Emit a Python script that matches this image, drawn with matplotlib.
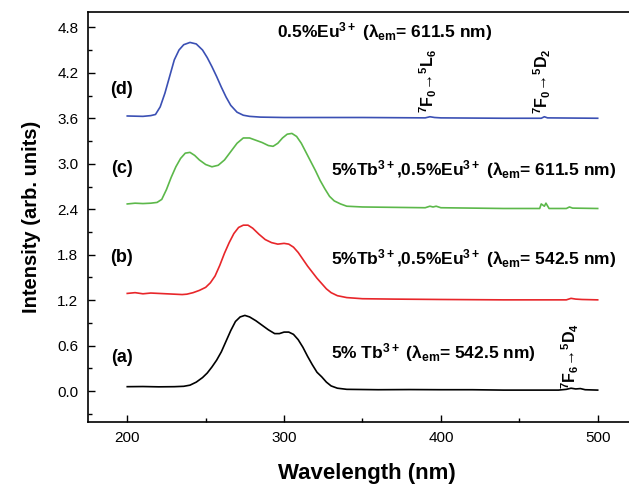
import matplotlib
matplotlib.use('Agg')
import matplotlib.pyplot as plt

plt.rcParams['font.family'] = ['Liberation Sans', 'DejaVu Sans']
plt.rcParams['mathtext.fontset'] = 'custom'
plt.rcParams['mathtext.rm'] = 'Liberation Sans:bold'
plt.rcParams['mathtext.it'] = 'Liberation Sans:bold'
plt.rcParams['mathtext.bf'] = 'Liberation Sans:bold'

# (a) 5% Tb3+, em 542.5 nm
wl_a = [200, 210, 220, 230, 236, 240, 244, 248, 251, 254, 257, 260, 263, 266,
        269, 272, 275, 278, 282, 286, 290, 294, 297, 300, 303, 306, 309, 312,
        315, 318, 321, 324, 327, 330, 334, 340, 360, 380, 400, 420, 440, 460,
        475, 480, 483, 486, 489, 492, 500]
int_a = [0.06, 0.062, 0.058, 0.06, 0.065, 0.08, 0.12, 0.18, 0.24, 0.32, 0.41,
         0.52, 0.66, 0.80, 0.92, 0.98, 1.0, 0.98, 0.93, 0.87, 0.81, 0.76, 0.76,
         0.78, 0.78, 0.75, 0.68, 0.58, 0.46, 0.35, 0.25, 0.19, 0.12, 0.07, 0.04,
         0.025, 0.02, 0.022, 0.02, 0.02, 0.015, 0.015, 0.015, 0.025, 0.04, 0.03,
         0.035, 0.02, 0.015]

# (b) 5%Tb3+,0.5%Eu3+, em 542.5 nm
wl_b = [200, 205, 210, 215, 220, 225, 230, 235, 238, 242, 246, 250, 253, 256,
        259, 262, 265, 268, 271, 274, 277, 280, 284, 288, 292, 296, 300, 303,
        306, 309, 312, 315, 318, 321, 324, 327, 330, 334, 340, 350, 370, 400,
        440, 480, 483, 486, 490, 500]
int_b = [1.29, 1.30, 1.285, 1.295, 1.29, 1.285, 1.28, 1.275, 1.28, 1.30, 1.33,
         1.37, 1.43, 1.52, 1.66, 1.82, 1.96, 2.08, 2.16, 2.19, 2.19, 2.15, 2.07,
         2.00, 1.96, 1.94, 1.95, 1.94, 1.90, 1.83, 1.74, 1.65, 1.57, 1.49, 1.42,
         1.35, 1.30, 1.26, 1.235, 1.22, 1.215, 1.21, 1.205, 1.205, 1.225, 1.215,
         1.21, 1.205]

# (c) 5%Tb3+,0.5%Eu3+, em 611.5 nm
wl_c = [200, 205, 210, 215, 219, 222, 225, 228, 231, 234, 237, 240, 243, 246,
        250, 254, 258, 262, 266, 270, 274, 278, 282, 286, 290, 293, 296, 299,
        302, 305, 308, 311, 314, 317, 320, 323, 326, 329, 332, 336, 340, 350,
        370, 390, 393, 395, 397, 400, 420, 440, 460, 463, 464, 466, 467, 469,
        480, 482, 484, 500]
int_c = [2.47, 2.48, 2.475, 2.48, 2.49, 2.53, 2.66, 2.82, 2.96, 3.07, 3.14,
         3.15, 3.11, 3.05, 2.99, 2.96, 2.98, 3.05, 3.16, 3.27, 3.34, 3.34, 3.31,
         3.28, 3.24, 3.23, 3.27, 3.34, 3.39, 3.40, 3.36, 3.27, 3.15, 3.03, 2.91,
         2.78, 2.67, 2.57, 2.51, 2.47, 2.44, 2.43, 2.425, 2.42, 2.44, 2.43, 2.44,
         2.42, 2.415, 2.41, 2.41, 2.41, 2.47, 2.44, 2.48, 2.41, 2.41, 2.43,
         2.415, 2.41]

# (d) 0.5%Eu3+, em 611.5 nm
wl_d = [200, 210, 215, 218, 221, 224, 227, 230, 233, 236, 240, 244, 248, 251,
        254, 257, 260, 263, 266, 270, 274, 278, 285, 300, 350, 390, 393, 396,
        400, 440, 464, 466, 468, 500]
int_d = [3.63, 3.625, 3.635, 3.65, 3.75, 3.93, 4.15, 4.37, 4.50, 4.57, 4.60,
         4.58, 4.50, 4.40, 4.28, 4.15, 4.01, 3.88, 3.77, 3.68, 3.64, 3.625, 3.615,
         3.61, 3.61, 3.605, 3.62, 3.61, 3.605, 3.60, 3.60, 3.62, 3.605, 3.60]

fig = plt.figure(figsize=(6.29, 4.84), dpi=100)
ax = fig.add_axes([0.14, 0.129, 0.885, 0.846])

ax.plot(wl_a, int_a, color='black', lw=1.2)
ax.plot(wl_b, int_b, color='#e8262a', lw=1.2)
ax.plot(wl_c, int_c, color='#5cb84a', lw=1.2)
ax.plot(wl_d, int_d, color='#3b50b4', lw=1.2)

ax.set_xlim(175, 530)
ax.set_ylim(-0.4, 5.0)
ax.set_xticks([200, 300, 400, 500])
ax.set_xticks([250, 350, 450], minor=True)
ax.set_yticks([0.0, 0.6, 1.2, 1.8, 2.4, 3.0, 3.6, 4.2, 4.8])
ax.set_yticks([-0.3, 0.3, 0.9, 1.5, 2.1, 2.7, 3.3, 3.9, 4.5], minor=True)
ax.yaxis.set_major_formatter(matplotlib.ticker.FormatStrFormatter('%.1f'))
ax.tick_params(which='both', direction='in', labelsize=11, width=1.0)
ax.tick_params(which='major', length=5, pad=7)
ax.tick_params(which='minor', length=3)
for s in ax.spines.values():
    s.set_linewidth(1.2)

ax.set_xlabel('Wavelength (nm)', fontsize=16, fontweight='bold', labelpad=13)
ax.set_ylabel('Intensity (arb. units)', fontsize=14.5, fontweight='bold', labelpad=12)

fs = 12.5
ax.text(295.5, 4.74, r'0.5%Eu$^{3+}$ ($\lambda_{em}$= 611.5 nm)', fontsize=fs,
        fontweight='bold', ha='left', va='center')
ax.text(330, 2.92, r'5%Tb$^{3+}$,0.5%Eu$^{3+}$ ($\lambda_{em}$= 611.5 nm)', fontsize=fs,
        fontweight='bold', ha='left', va='center')
ax.text(330, 1.755, r'5%Tb$^{3+}$,0.5%Eu$^{3+}$ ($\lambda_{em}$= 542.5 nm)', fontsize=fs,
        fontweight='bold', ha='left', va='center')
ax.text(330, 0.515, r'5% Tb$^{3+}$ ($\lambda_{em}$= 542.5 nm)', fontsize=fs,
        fontweight='bold', ha='left', va='center')

for lab, y in [('(d)', 3.98), ('(c)', 2.94), ('(b)', 1.77), ('(a)', 0.45)]:
    ax.text(196.5, y, lab, fontsize=13, fontweight='bold', ha='center', va='center')

ax.text(391.9, 4.09, r'$^7$F$_0$→$^5$L$_6$', fontsize=11.5, fontweight='bold',
        rotation=90, ha='center', va='center')
ax.text(464.6, 4.09, r'$^7$F$_0$→$^5$D$_2$', fontsize=11.5, fontweight='bold',
        rotation=90, ha='center', va='center')
ax.text(482.5, 0.46, r'$^7$F$_6$→$^5$D$_4$', fontsize=11.5, fontweight='bold',
        rotation=90, ha='center', va='center')

fig.savefig('out.png', dpi=100)
